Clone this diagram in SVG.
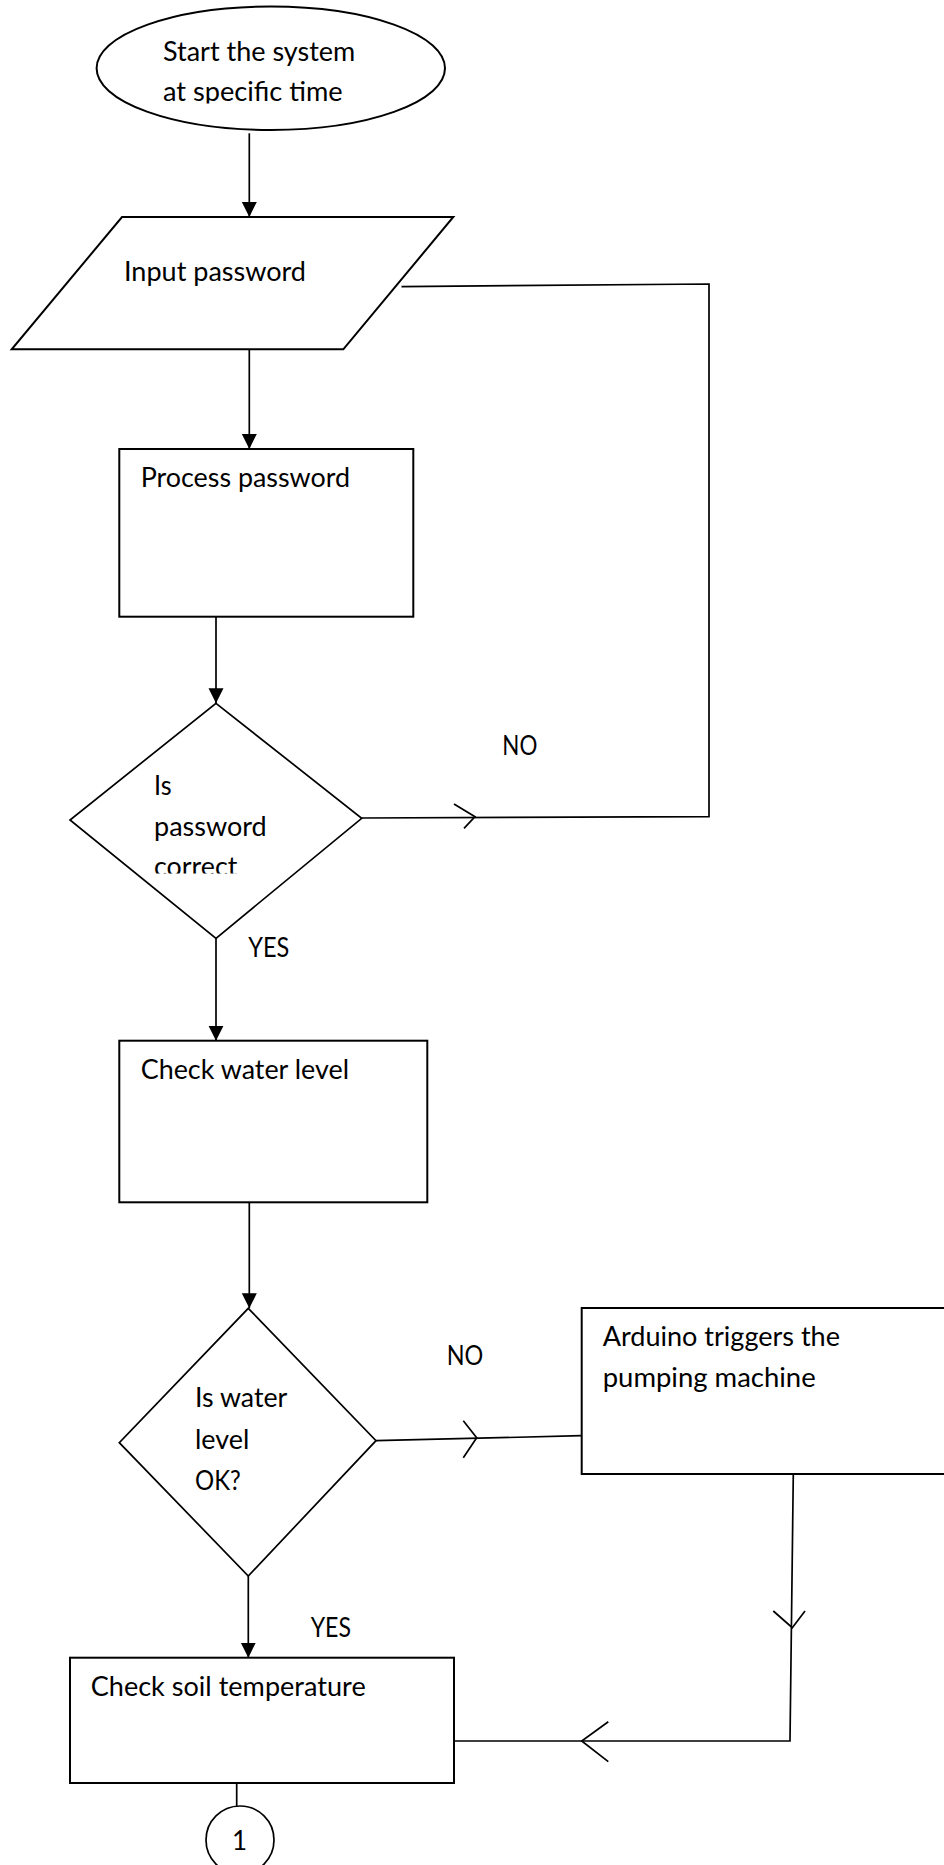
<svg xmlns="http://www.w3.org/2000/svg" width="944" height="1865" viewBox="0 0 944 1865">
<style>
.shape{fill:#fff;stroke:#000;stroke-width:2}
.dia{fill:#fff;stroke:#000;stroke-width:1.7}
.ln{fill:none;stroke:#000;stroke-width:1.7}
.chev{fill:none;stroke:#000;stroke-width:1.7}
text{font-family:Lato,"Open Sans","Liberation Sans",sans-serif;font-size:26px;fill:#000}
</style>
<defs>
<marker id="arr" markerUnits="userSpaceOnUse" markerWidth="16" markerHeight="16" refX="15" refY="7.5" orient="auto">
<path d="M0,0 L15,7.5 L0,15 Z" fill="#000"/>
</marker>
<clipPath id="clipStart"><rect x="0" y="0" width="944" height="103.5"/></clipPath>
<clipPath id="clipDec1"><rect x="0" y="700" width="944" height="173.5"/></clipPath>
</defs>

<g id="connectors">
<line class="ln" x1="249.3" y1="133.3" x2="249.3" y2="217" marker-end="url(#arr)"/>
<line class="ln" x1="249.3" y1="349.3" x2="249.3" y2="449" marker-end="url(#arr)"/>
<line class="ln" x1="216" y1="616.7" x2="216" y2="703.3" marker-end="url(#arr)"/>
<polyline class="ln" points="361.7,818 709,816.7 709,284 401.5,286.6"/>
<polyline class="chev" points="454,804 475,816.7 464,828.3"/>
<text x="502.3" y="755" textLength="35" lengthAdjust="spacingAndGlyphs">NO</text>
<line class="ln" x1="216" y1="938.3" x2="216" y2="1040.7" marker-end="url(#arr)"/>
<text x="248.3" y="957.3" textLength="41" lengthAdjust="spacingAndGlyphs">YES</text>
<line class="ln" x1="249.3" y1="1202.3" x2="249.3" y2="1308.3" marker-end="url(#arr)"/>
<line class="ln" x1="376" y1="1440.7" x2="581.7" y2="1435.7"/>
<polyline class="chev" points="463.3,1420.7 476.7,1437.7 463.3,1457.7"/>
<text x="446.7" y="1365" textLength="36.6" lengthAdjust="spacingAndGlyphs">NO</text>
<line class="ln" x1="248.3" y1="1576" x2="248.3" y2="1657.7" marker-end="url(#arr)"/>
<text x="310.7" y="1636.7" textLength="40.3" lengthAdjust="spacingAndGlyphs">YES</text>
<polyline class="ln" points="793.3,1474 790,1741 454,1741"/>
<polyline class="chev" points="773.3,1611 792.3,1627.7 805,1611"/>
<polyline class="chev" points="608.3,1721.7 581.7,1741 608.3,1761.7"/>
<line class="ln" x1="236.7" y1="1783" x2="236.7" y2="1806"/>
</g>

<g id="n-start">
<ellipse class="shape" cx="270.8" cy="68.3" rx="174.2" ry="61.7"/>
<g clip-path="url(#clipStart)">
<text x="163" y="61" textLength="192.3" lengthAdjust="spacingAndGlyphs">Start the system</text>
<text x="163" y="101" textLength="179.7" lengthAdjust="spacingAndGlyphs">at specific time</text>
</g>
</g>

<g id="n-input">
<polygon class="shape" points="122,217 453.3,217 343.3,349.3 11.7,349.3"/>
<text x="124" y="281" textLength="182" lengthAdjust="spacingAndGlyphs">Input password</text>
</g>

<g id="n-process">
<rect class="shape" x="119.3" y="449" width="294" height="167.7"/>
<text x="140.7" y="487.4" textLength="209.3" lengthAdjust="spacingAndGlyphs">Process password</text>
</g>

<g id="n-dec1">
<polygon class="dia" points="216,703.3 361.7,818.3 216,938.3 70,820"/>
<g clip-path="url(#clipDec1)">
<text x="154" y="795" textLength="17.5" lengthAdjust="spacingAndGlyphs">Is</text>
<text x="154" y="836" textLength="112.7" lengthAdjust="spacingAndGlyphs">password</text>
<text x="154" y="876" textLength="83.3" lengthAdjust="spacingAndGlyphs">correct</text>
</g>
</g>

<g id="n-checkwater">
<rect class="shape" x="119.3" y="1040.7" width="308" height="161.6"/>
<text x="140.7" y="1079" textLength="208.3" lengthAdjust="spacingAndGlyphs">Check water level</text>
</g>

<g id="n-dec2">
<polygon class="dia" points="248.3,1308.3 376,1440.7 248.3,1576 119.3,1442.7"/>
<text x="195" y="1407.3" textLength="92.3" lengthAdjust="spacingAndGlyphs">Is water</text>
<text x="195" y="1449.3" textLength="54.3" lengthAdjust="spacingAndGlyphs">level</text>
<text x="195" y="1490" textLength="45.7" lengthAdjust="spacingAndGlyphs">OK?</text>
</g>

<g id="n-arduino">
<rect class="shape" x="581.7" y="1308" width="400" height="166"/>
<text x="602.7" y="1345.7" textLength="237.3" lengthAdjust="spacingAndGlyphs">Arduino triggers the</text>
<text x="602.7" y="1387.3" textLength="213" lengthAdjust="spacingAndGlyphs">pumping machine</text>
</g>

<g id="n-soil">
<rect class="shape" x="70" y="1657.7" width="384" height="125.3"/>
<text x="90.7" y="1696" textLength="275" lengthAdjust="spacingAndGlyphs">Check soil temperature</text>
</g>

<g id="n-conn1">
<circle class="dia" cx="240" cy="1840" r="34"/>
<text x="232" y="1850">1</text>
</g>
</svg>
